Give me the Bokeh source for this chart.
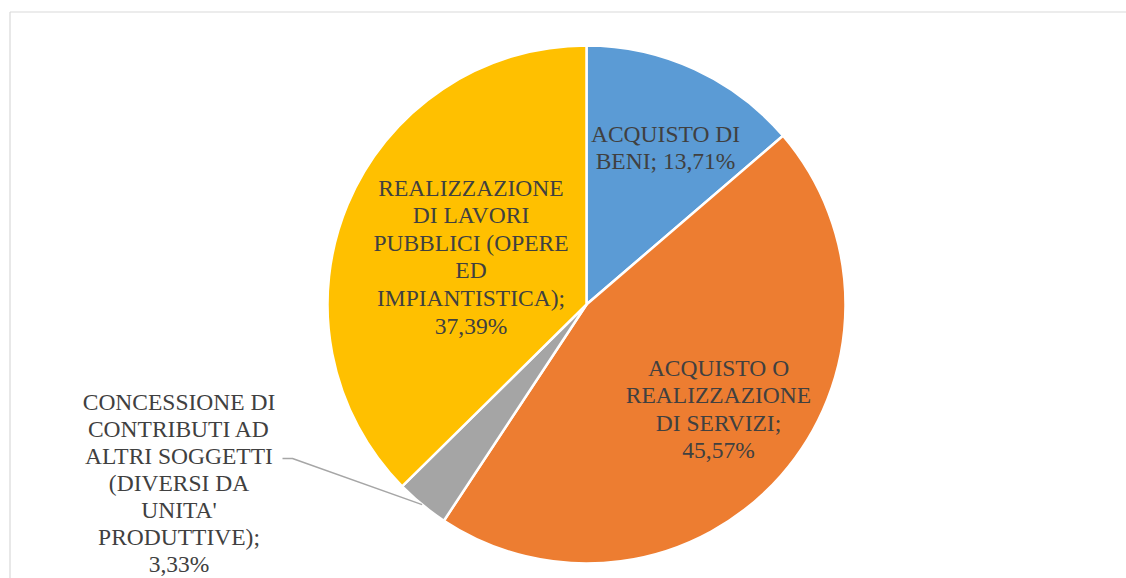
import math
from bokeh.plotting import figure
from bokeh.models import Range1d, ColumnDataSource
from bokeh.core.properties import value
from bokeh.embed import file_html
from bokeh.resources import INLINE

# ---- data ----
categories = [
    "ACQUISTO DI BENI",
    "ACQUISTO O REALIZZAZIONE DI SERVIZI",
    "CONCESSIONE DI CONTRIBUTI AD ALTRI SOGGETTI (DIVERSI DA UNITA' PRODUTTIVE)",
    "REALIZZAZIONE DI LAVORI PUBBLICI (OPERE ED IMPIANTISTICA)",
]
percent = [13.71, 45.57, 3.33, 37.39]
percent_labels = ["13,71%", "45,57%", "3,33%", "37,39%"]
label_lines = [
    ["ACQUISTO DI", "BENI; 13,71%"],
    ["ACQUISTO O", "REALIZZAZIONE", "DI SERVIZI;", "45,57%"],
    ["CONCESSIONE DI", "CONTRIBUTI AD", "ALTRI SOGGETTI", "(DIVERSI DA", "UNITA'", "PRODUTTIVE);", "3,33%"],
    ["REALIZZAZIONE", "DI LAVORI", "PUBBLICI (OPERE", "ED", "IMPIANTISTICA);", "37,39%"],
]
colors = ["#5B9BD5", "#ED7D31", "#A5A5A5", "#FFC000"]

# ---- layout (picture pixels) ----
W, H = 1126, 578
CX, CY, R = 586, 304, 259
label_anchor = [(665, 133), (718, 367), (178.5, 401), (470.5, 187)]  # centre x, first baseline
line_heights = [27.6, 27.6, 27.0, 27.6]
FONT = value("Liberation Serif")
TEXT_COLOR = "#404040"


def sy(y):
    return H - y


p = figure(width=W, height=H, x_range=Range1d(0, W), y_range=Range1d(0, H),
           x_axis_type=None, y_axis_type=None, toolbar_location=None,
           output_backend="svg", min_border=0, outline_line_color=None)
p.grid.visible = False
p.background_fill_color = "white"
p.border_fill_color = "white"

# chart area border (top and left visible)
p.line([9.5, W + 5], [sy(11.5), sy(11.5)], line_color="#D9D9D9", line_width=1.2)
p.line([9.5, 9.5], [sy(11.5), sy(H + 5)], line_color="#D9D9D9", line_width=1.2)

# wedges: start at 12 o'clock, clockwise
total = sum(percent)
starts, ends, mids = [], [], []
cum = 0.0
for v in percent:
    a0 = math.pi / 2 - 2 * math.pi * cum / total
    cum += v
    a1 = math.pi / 2 - 2 * math.pi * cum / total
    starts.append(a0)
    ends.append(a1)
    mids.append((a0 + a1) / 2)

src = ColumnDataSource(dict(start=starts, end=ends, color=colors, cat=categories, pct=percent))
p.wedge(x=CX, y=sy(CY), radius=R, radius_units="screen", start_angle="start", end_angle="end",
        direction="clock", fill_color="color", line_color="white", line_width=2.5, source=src)

# leader line for the small slice
i_small = 2
ex = CX + R * math.cos(mids[i_small])
ey = sy(CY) + R * math.sin(mids[i_small])
p.line([282, 292, ex], [sy(458), sy(458), ey], line_color="#A6A6A6", line_width=1.5)

# labels
xs, ys, ts = [], [], []
for (ax, ay), lines, lh in zip(label_anchor, label_lines, line_heights):
    for k, t in enumerate(lines):
        xs.append(ax)
        ys.append(sy(ay + k * lh))
        ts.append(t)
p.text(x=xs, y=ys, text=ts, text_font=FONT, text_font_size="23.5px", text_color=TEXT_COLOR,
       text_align="center", text_baseline="alphabetic")

open("out.html", "w").write(file_html(p, INLINE))
